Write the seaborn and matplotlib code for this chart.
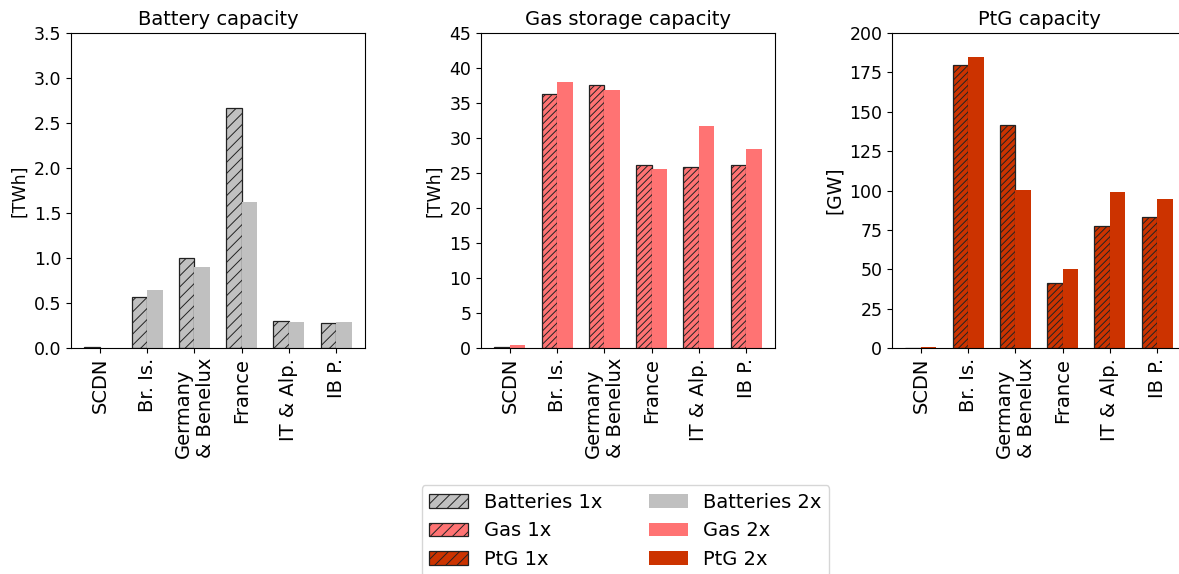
import numpy as np
import pandas as pd
import matplotlib
matplotlib.use("Agg")
import matplotlib.pyplot as plt
from matplotlib.patches import Patch
import seaborn as sns

plt.rcParams["hatch.linewidth"] = 0.7

regions = ["SCDN", "Br. Is.", "Germany\n& Benelux", "France", "IT & Alp.", "IB P."]
scenarios = ["1x", "2x"]

battery_1x = [0.012, 0.565, 1.005, 2.67, 0.30, 0.28]
battery_2x = [0.004, 0.64, 0.895, 1.625, 0.29, 0.29]
gas_1x = [0.15, 36.3, 37.6, 26.1, 25.9, 26.2]
gas_2x = [0.5, 38.0, 36.8, 25.6, 31.7, 28.4]
ptg_1x = [0.0, 180.0, 141.5, 41.5, 77.5, 83.0]
ptg_2x = [0.8, 184.5, 100.3, 50.3, 99.0, 94.5]

titles = ["Battery capacity", "Gas storage capacity", "PtG capacity"]
ylabels = ["[TWh]", "[TWh]", "[GW]"]
legend_names = ["Batteries", "Gas", "PtG"]
colors = ["#c0c0c0", "#ff7373", "#cc3300"]
hatches = ["///", "/////", "/////"]
ylims = [(0, 3.5), (0, 45), (0, 200)]
yticks = [np.arange(0, 3.51, 0.5), np.arange(0, 46, 5), np.arange(0, 201, 25)]
ytick_fmt = ["{:.1f}", "{:.0f}", "{:.0f}"]
ylabel_sizes = [12.5, 12.5, 13.5]

series = [(battery_1x, battery_2x), (gas_1x, gas_2x), (ptg_1x, ptg_2x)]

fig = plt.figure(figsize=(11.79, 5.74), dpi=100)
lefts = [71 / 1179, 481 / 1179, 892 / 1179]
bottom = 1 - 348 / 574
height = (348 - 33) / 574
width = 294 / 1179

for i in range(3):
    ax = fig.add_axes([lefts[i], bottom, width, height])
    v1, v2 = series[i]
    df = pd.DataFrame({
        "region": regions * 2,
        "scenario": ["1x"] * len(regions) + ["2x"] * len(regions),
        "value": list(v1) + list(v2),
    })
    sns.barplot(data=df, x="region", y="value", hue="scenario", order=regions,
                hue_order=scenarios, palette=[colors[i], colors[i]],
                width=0.66, gap=0, ax=ax, legend=False, saturation=1)
    for p in ax.containers[0]:
        p.set_hatch(hatches[i])
        p.set_edgecolor("#222222")
        p.set_linewidth(0.9)
    for p in ax.containers[1]:
        p.set_edgecolor(colors[i])
        p.set_linewidth(0)
    ax.set_title(titles[i], fontsize=14)
    ax.set_xlabel("")
    ax.set_ylabel(ylabels[i], fontsize=ylabel_sizes[i])
    ax.set_ylim(*ylims[i])
    ax.set_yticks(yticks[i])
    ax.set_yticklabels([ytick_fmt[i].format(t) for t in yticks[i]], fontsize=12.5)
    ax.set_xticks(range(len(regions)))
    ax.set_xticklabels(regions, rotation=90, fontsize=14, multialignment="left")
    ax.set_xlim(-0.61, len(regions) - 1 + 0.61)

handles = []
for i in range(3):
    handles.append(Patch(facecolor=colors[i], edgecolor="#222222", hatch="///",
                         linewidth=0.9, label=f"{legend_names[i]} 1x"))
for i in range(3):
    handles.append(Patch(facecolor=colors[i], edgecolor=colors[i], linewidth=0,
                         label=f"{legend_names[i]} 2x"))
fig.legend(handles=handles, ncol=2, loc="upper center",
           bbox_to_anchor=(625.5 / 1179, 1 - 475 / 574), fontsize=14,
           columnspacing=2.4)

fig.savefig("out.png", dpi=100)
